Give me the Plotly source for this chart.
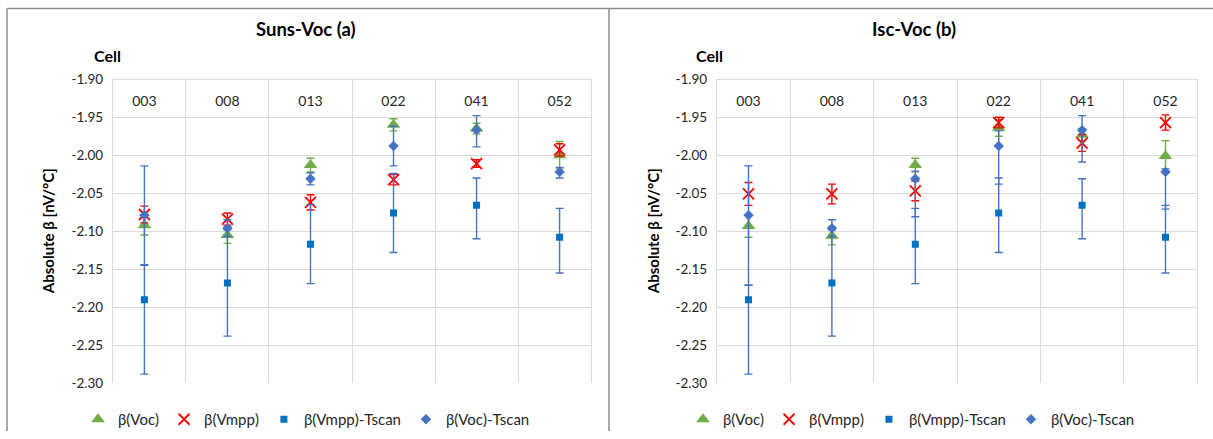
import plotly.graph_objects as go

W, H = 1213, 439

cells = ["003", "008", "013", "022", "041", "052"]

y_ticks = [-2.30, -2.25, -2.20, -2.15, -2.10, -2.05, -2.00, -1.95, -1.90]
y_tick_labels = ["-2.30", "-2.25", "-2.20", "-2.15", "-2.10", "-2.05", "-2.00", "-1.95", "-1.90"]

# Suns-Voc (a)
voc_a = [-2.092, -2.105, -2.013, -1.960, -1.965, -2.000]
voc_a_err = [0.013, 0.011, 0.009, 0.008, 0.007, 0.018]
vmpp_a = [-2.078, -2.084, -2.062, -2.032, -2.011, -1.993]
vmpp_a_err = [0.011, 0.008, 0.010, 0.007, 0.005, 0.008]

# Isc-Voc (b)
voc_b = [-2.093, -2.106, -2.013, -1.964, -1.973, -2.001]
voc_b_err = [0.015, 0.012, 0.009, 0.011, 0.008, 0.020]
vmpp_b = [-2.051, -2.051, -2.047, -1.957, -1.984, -1.957]
vmpp_b_err = [0.015, 0.013, 0.013, 0.007, 0.011, 0.010]

# Tscan (same values in both panels)
vmpp_ts = [-2.190, -2.168, -2.117, -2.076, -2.066, -2.108]
voc_ts = [-2.079, -2.096, -2.031, -1.988, -1.967, -2.022]

vmpp_ts_a_plus = [0.046, 0.070, 0.052, 0.052, 0.036, 0.038]
vmpp_ts_a_minus = [0.098, 0.070, 0.052, 0.052, 0.044, 0.047]
voc_ts_a_plus = [0.065, 0.011, 0.008, 0.026, 0.019, 0.006]
voc_ts_a_minus = [0.066, 0.011, 0.008, 0.026, 0.022, 0.008]

vmpp_ts_b_plus = [0.019, 0.070, 0.047, 0.046, 0.035, 0.042]
vmpp_ts_b_minus = [0.098, 0.070, 0.052, 0.052, 0.044, 0.047]
voc_ts_b_plus = [0.065, 0.011, 0.010, 0.020, 0.019, 0.004]
voc_ts_b_minus = [0.092, 0.011, 0.050, 0.050, 0.042, 0.049]

names = ["β(Voc)", "β(Vmpp)", "β(Vmpp)-Tscan", "β(Voc)-Tscan"]
titles = ["Suns-Voc (a)", "Isc-Voc (b)"]

GREEN = "#70AD47"
RED = "#FF0000"
BLUE_SQ = "#0070C0"
BLUE = "#4472C4"
FONT = "Lato"
TXT = "#262626"


def px(x):
    return x / W


def py(y):
    # vertical placement (pixels from top) -> paper fraction
    yy = (y - 9.3) / 0.957
    yy = min(max(yy, 0.5), H - 0.5)
    return 1 - yy / H


fig = go.Figure()


def err(plus, minus, color):
    return dict(type="data", symmetric=False, array=plus, arrayminus=minus,
                color=color, thickness=1.4, width=4)


panels = [
    (voc_a, voc_a_err, vmpp_a, vmpp_a_err, vmpp_ts_a_plus, vmpp_ts_a_minus,
     voc_ts_a_plus, voc_ts_a_minus),
    (voc_b, voc_b_err, vmpp_b, vmpp_b_err, vmpp_ts_b_plus, vmpp_ts_b_minus,
     voc_ts_b_plus, voc_ts_b_minus),
]

for i, (voc, voce, vmpp, vmppe, sqp, sqm, dip, dim) in enumerate(panels):
    xa = "x" if i == 0 else "x2"
    ya = "y" if i == 0 else "y2"
    lg = "legend" if i == 0 else "legend2"
    fig.add_trace(go.Scatter(
        x=cells, y=voc, mode="markers", name=names[0], xaxis=xa, yaxis=ya, legend=lg,
        marker=dict(symbol="triangle-up", size=12, color=GREEN),
        error_y=err(voce, voce, GREEN)))
    fig.add_trace(go.Scatter(
        x=cells, y=vmpp, mode="markers", name=names[1], xaxis=xa, yaxis=ya, legend=lg,
        marker=dict(symbol="x-thin", size=11, color=RED, line=dict(color=RED, width=1.8)),
        error_y=err(vmppe, vmppe, RED)))
    fig.add_trace(go.Scatter(
        x=cells, y=vmpp_ts, mode="markers", name=names[2], xaxis=xa, yaxis=ya, legend=lg,
        marker=dict(symbol="square", size=7, color=BLUE_SQ),
        error_y=err(sqp, sqm, BLUE)))
    fig.add_trace(go.Scatter(
        x=cells, y=voc_ts, mode="markers", name=names[3], xaxis=xa, yaxis=ya, legend=lg,
        marker=dict(symbol="diamond", size=8, color=BLUE),
        error_y=err(dip, dim, BLUE)))

GRID = "#D9D9D9"
ydoms = [py(382), py(80)]
xdoms = [[px(113), px(591)], [px(717), px(1197)]]

common_x = dict(type="category", categoryorder="array", categoryarray=cells,
                anchor="free", position=ydoms[1], side="bottom",
                tickson="boundaries", ticks="", ticklabelstandoff=9,
                showgrid=True, gridcolor=GRID, gridwidth=1.3,
                showline=True, linecolor=GRID, linewidth=1.3,
                tickfont=dict(family=FONT, size=14, color=TXT), fixedrange=True)
common_y = dict(range=[-2.30, -1.90], tickmode="array", tickvals=y_ticks, ticktext=y_tick_labels,
                showgrid=True, gridcolor=GRID, gridwidth=1.3, zeroline=False,
                showline=True, linecolor=GRID, linewidth=1.3, mirror=True,
                ticks="", ticklabelstandoff=6, fixedrange=True,
                tickfont=dict(family=FONT, size=13.5, color=TXT), domain=ydoms)

fig.update_layout(
    width=W, height=H,
    margin=dict(l=0, r=0, t=0, b=0),
    paper_bgcolor="white", plot_bgcolor="white",
    xaxis=dict(common_x, domain=xdoms[0]),
    yaxis=dict(common_y, anchor="x"),
    xaxis2=dict(common_x, domain=xdoms[1]),
    yaxis2=dict(common_y, anchor="x2"),
    legend=dict(orientation="h", x=px(78), xanchor="left", y=py(418), yanchor="middle",
                font=dict(family=FONT, size=15, color=TXT), itemwidth=30,
                bgcolor="rgba(0,0,0,0)"),
    legend2=dict(orientation="h", x=px(683), xanchor="left", y=py(418), yanchor="middle",
                 font=dict(family=FONT, size=15, color=TXT), itemwidth=30,
                 bgcolor="rgba(0,0,0,0)"),
)

annotations = []
for i, t in enumerate(titles):
    annotations.append(dict(text="<b>" + t + "</b>", xref="paper", yref="paper",
                            x=px([306, 914][i]), y=py(30), xanchor="center", yanchor="middle",
                            showarrow=False, font=dict(family=FONT, size=18.5, color="black")))
    annotations.append(dict(text="<b>Cell</b>", xref="paper", yref="paper",
                            x=px([107, 709][i]), y=py(56), xanchor="center", yanchor="middle",
                            showarrow=False, font=dict(family=FONT, size=16, color="black")))
    annotations.append(dict(text="<b>Absolute β [nV/°C]</b>", xref="paper", yref="paper",
                            x=px([48, 653][i]), y=(ydoms[0] + ydoms[1]) / 2, textangle=-90,
                            xanchor="center", yanchor="middle",
                            showarrow=False, font=dict(family=FONT, size=15, color="black")))
fig.update_layout(annotations=annotations)

BORDER = "#8C8C8C"
fig.update_layout(shapes=[
    dict(type="line", xref="paper", yref="paper", x0=px(7), x1=1, y0=py(5), y1=py(5),
         line=dict(color=BORDER, width=1.5)),
    dict(type="line", xref="paper", yref="paper", x0=px(7), x1=px(7), y0=0, y1=py(5),
         line=dict(color=BORDER, width=1.5)),
    dict(type="line", xref="paper", yref="paper", x0=px(609), x1=px(609), y0=0, y1=py(5),
         line=dict(color=BORDER, width=1.5)),
])

fig.write_html("out.html", config={"displayModeBar": False},
               post_script="document.body.style.margin='0px';")
